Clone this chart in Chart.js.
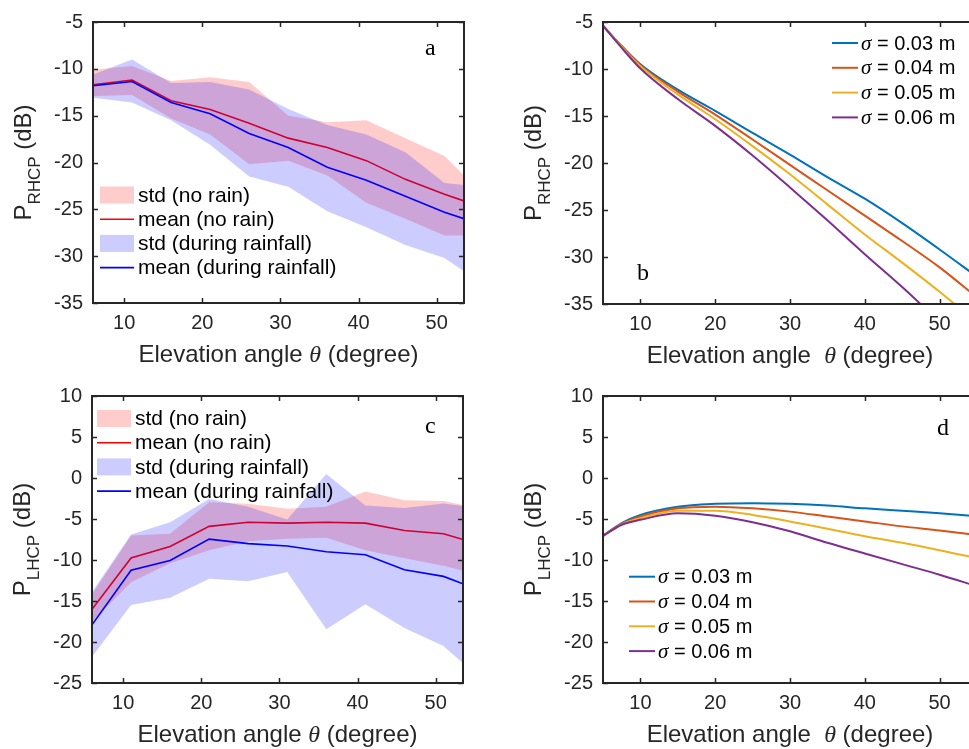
<!DOCTYPE html>
<html>
<head>
<meta charset="utf-8">
<script src="https://cdn.jsdelivr.net/npm/chart.js@4.4.1/dist/chart.umd.min.js"></script>
<style>
    html, body {
        margin: 0;
        padding: 0;
        background: #fff;
        width: 969px;
        height: 749px;
        overflow: hidden;
        position: relative;
    }

    canvas {
        position: absolute;
    }
</style>
</head>
<body>
<canvas id="panelA" width="484" height="374" style="left:0;top:0"></canvas>
<canvas id="panelB" width="500" height="374" style="left:484px;top:0"></canvas>
<canvas id="panelC" width="484" height="375" style="left:0;top:374px"></canvas>
<canvas id="panelD" width="500" height="375" style="left:484px;top:374px"></canvas>
<script>
// Measured elevation angles (deg) for panels a and c
const angleObs = [6, 11, 16, 21, 26, 31, 36, 41, 46, 51, 53.5];

// Panel a: RHCP (dB)
const rhcpMeanNoRain = [-11.7, -11.2, -13.4, -14.35, -15.8, -17.4, -18.4, -19.8, -21.8, -23.4, -24.1];
const rhcpMeanRain = [-11.8, -11.35, -13.6, -14.8, -16.9, -18.4, -20.5, -21.9, -23.6, -25.3, -26.0];
const rhcpStdNoRainHi = [-10.1, -9.7, -11.3, -10.9, -11.4, -15.0, -15.7, -15.5, -17.4, -19.3, -21.4];
const rhcpStdNoRainLo = [-12.9, -12.8, -15.3, -17.0, -20.2, -19.8, -21.4, -24.3, -26.0, -27.8, -27.8];
const rhcpStdRainHi = [-10.6, -9.0, -11.5, -11.4, -12.2, -14.3, -16.0, -17.0, -18.9, -22.2, -22.4];
const rhcpStdRainLo = [-13.1, -13.6, -15.5, -18.1, -21.5, -22.6, -25.2, -26.9, -28.8, -30.2, -31.6];

// Panel c: LHCP (dB)
const lhcpMeanNoRain = [-16.0, -9.75, -8.35, -5.9, -5.4, -5.5, -5.4, -5.5, -6.4, -6.8, -7.5];
const lhcpMeanRain = [-17.9, -11.25, -10.05, -7.45, -8.0, -8.3, -9.0, -9.35, -11.2, -12.0, -12.9];
const lhcpStdNoRainHi = [-14.2, -7.0, -6.8, -2.95, -3.15, -3.75, -3.5, -1.65, -2.7, -2.8, -3.3];
const lhcpStdNoRainLo = [-17.5, -12.7, -10.4, -8.8, -7.7, -7.4, -7.3, -8.8, -9.8, -10.7, -11.3];
const lhcpStdRainHi = [-13.9, -6.9, -5.4, -2.55, -3.5, -5.05, 0.5, -3.35, -3.65, -3.1, -3.4];
const lhcpStdRainLo = [-21.8, -15.5, -14.6, -12.3, -12.6, -11.45, -18.45, -15.4, -18.3, -20.5, -22.6];

// Model elevation angles (deg) for panels b and d
const angleModel = [5, 7.5, 10, 15, 20, 25, 30, 35, 40, 45, 50, 55];
const sigmaLabels = ['0.03', '0.04', '0.05', '0.06'];

// Panel b: modelled RHCP (dB)
const rhcpSigma03 = [-5.4, -7.55, -9.5, -12.2, -14.45, -16.8, -19.1, -21.5, -23.8, -26.4, -29.2, -32.1];
const rhcpSigma04 = [-5.4, -7.6, -9.6, -12.4, -14.85, -17.5, -20.2, -22.9, -25.6, -28.3, -31.1, -34.3];
const rhcpSigma05 = [-5.4, -7.65, -9.7, -12.7, -15.35, -18.2, -21.2, -24.4, -27.6, -30.6, -33.7, -37.0];
const rhcpSigma06 = [-5.4, -7.75, -9.95, -13.2, -16.05, -19.2, -22.6, -26.1, -29.7, -33.2, -36.9, -40.5];

// Panel d: modelled LHCP (dB)
const lhcpSigma03 = [-7.05, -5.5, -4.5, -3.5, -3.15, -3.07, -3.15, -3.36, -3.7, -4.0, -4.3, -4.65];
const lhcpSigma04 = [-7.05, -5.6, -4.7, -3.7, -3.5, -3.7, -4.1, -4.7, -5.3, -5.9, -6.4, -6.95];
const lhcpSigma05 = [-7.05, -5.65, -4.9, -4.0, -4.0, -4.5, -5.3, -6.2, -7.1, -7.9, -8.8, -9.8];
const lhcpSigma06 = [-7.05, -5.7, -5.1, -4.3, -4.6, -5.4, -6.5, -7.9, -9.2, -10.5, -11.8, -13.2];

// Tick labels
const xTicks = [10, 20, 30, 40, 50];
const rhcpTicks = [-35, -30, -25, -20, -15, -10, -5];
const lhcpTicks = [-25, -20, -15, -10, -5, 0, 5, 10];

const SANS = "'Liberation Sans', Arial, sans-serif";
const SERIF = "'Liberation Serif', 'Times New Roman', serif";
const AXIS_COLOR = '#262626';
const modelColors = ['#0072BD', '#D95319', '#EDB120', '#7E2F8E'];
const pinkFill = 'rgba(255, 0, 0, 0.2)';
const blueFill = 'rgba(0, 0, 255, 0.2)';

const pts = (xs, ys) => xs.map((x, i) => ({ x, y: ys[i] }));

function drawRuns(ctx, runs, x, y, align) {
    let total = 0;
    runs.forEach(r => {
        ctx.font = r.font;
        r.w = ctx.measureText(r.text).width;
        total += r.w;
    });
    let cx = align === 'center' ? x - total / 2 : x;
    runs.forEach(r => {
        ctx.font = r.font;
        ctx.fillText(r.text, cx, y + (r.dy || 0));
        cx += r.w;
    });
}

// Frame, inward ticks, axis titles, panel letter and legend
const panelDecor = {
    id: 'panelDecor',
    afterDraw(chart, args, opts) {
        const { ctx, chartArea: a } = chart;
        const xs = chart.scales.x;
        const ys = chart.scales.y;
        ctx.save();
        ctx.strokeStyle = AXIS_COLOR;
        ctx.fillStyle = AXIS_COLOR;

        const seg = (x1, y1, x2, y2) => {
            ctx.beginPath();
            ctx.moveTo(x1, y1);
            ctx.lineTo(x2, y2);
            ctx.stroke();
        };

        ctx.lineWidth = 1.5;
        xs.ticks.forEach(t => {
            const px = Math.round(xs.getPixelForValue(t.value)) + 0.5;
            seg(px, a.bottom, px, a.bottom - 5);
            seg(px, a.top, px, a.top + 5);
        });
        ys.ticks.forEach(t => {
            const py = Math.round(ys.getPixelForValue(t.value)) + 0.5;
            seg(a.left, py, a.left + 5, py);
            seg(a.right, py, a.right - 5, py);
        });

        ctx.lineWidth = 2;
        ctx.strokeRect(a.left, a.top, a.right - a.left, a.bottom - a.top);

        // x title
        ctx.textBaseline = 'alphabetic';
        drawRuns(ctx, [
            { text: opts.wideGap ? 'Elevation angle  ' : 'Elevation angle ', font: `24px ${SANS}` },
            { text: 'θ', font: `italic 24px ${SERIF}` },
            { text: ' (degree)', font: `24px ${SANS}` }
        ], (a.left + a.right) / 2, a.bottom + 59, 'center');

        // y title (rotated, with subscript)
        ctx.save();
        ctx.translate(a.left - 62, (a.top + a.bottom) / 2);
        ctx.rotate(-Math.PI / 2);
        drawRuns(ctx, [
            { text: 'P', font: `24px ${SANS}` },
            { text: opts.sub, font: `17px ${SANS}`, dy: 9 },
            { text: ' (dB)', font: `24px ${SANS}` }
        ], 0, 0, 'center');
        ctx.restore();

        // panel letter
        ctx.fillStyle = '#000';
        ctx.font = `24px ${SERIF}`;
        ctx.textAlign = 'left';
        ctx.fillText(opts.letter, opts.letterX, opts.letterY);

        // legend
        const lg = opts.legend;
        ctx.textBaseline = 'middle';
        lg.items.forEach((item, i) => {
            const cy = lg.y + i * lg.step;
            if (item.kind === 'box') {
                ctx.fillStyle = item.color;
                ctx.fillRect(lg.x, cy - 8.5, lg.len, 17);
            } else {
                ctx.strokeStyle = item.color;
                ctx.lineWidth = item.width;
                seg(lg.x, cy, lg.x + lg.len, cy);
            }
            ctx.fillStyle = '#000';
            drawRuns(ctx, item.runs, lg.x + lg.len + lg.gap, cy + 1, 'left');
        });
        ctx.restore();
    }
};

function makePanel(id, cfg) {
    const canvas = document.getElementById(id);
    const W = canvas.width;
    const H = canvas.height;
    const p = cfg.plot;
    return new Chart(canvas.getContext('2d'), {
        type: 'line',
        data: { datasets: cfg.datasets },
        options: {
            responsive: false,
            animation: false,
            events: [],
            layout: { padding: { left: 0, top: p.top, right: W - p.right, bottom: 0 } },
            elements: { point: { radius: 0 } },
            plugins: {
                legend: { display: false },
                tooltip: { enabled: false },
                panelDecor: cfg.decor
            },
            scales: {
                x: {
                    type: 'linear',
                    min: cfg.xMin,
                    max: cfg.xMax,
                    afterBuildTicks: s => { s.ticks = xTicks.map(v => ({ value: v })); },
                    afterFit: s => { s.height = H - p.bottom; },
                    grid: { display: false, drawTicks: false },
                    border: { display: false },
                    ticks: { font: { family: SANS, size: 20 }, color: AXIS_COLOR, padding: 8, maxRotation: 0 }
                },
                y: {
                    type: 'linear',
                    min: cfg.yTicks[0],
                    max: cfg.yTicks[cfg.yTicks.length - 1],
                    afterBuildTicks: s => { s.ticks = cfg.yTicks.map(v => ({ value: v })); },
                    afterFit: s => { s.width = p.left; },
                    grid: { display: false, drawTicks: false },
                    border: { display: false },
                    ticks: { font: { family: SANS, size: 20 }, color: AXIS_COLOR, padding: 10 }
                }
            }
        },
        plugins: [panelDecor]
    });
}

function obsDatasets(meanNo, meanRain, noHi, noLo, rainHi, rainLo) {
    const band = (ys, fill, color) => ({
        data: pts(angleObs, ys), borderWidth: 0, borderColor: 'rgba(0,0,0,0)',
        fill, backgroundColor: color, tension: 0
    });
    // Chart.js paints the last dataset first
    return [
        { data: pts(angleObs, meanRain), borderColor: '#0000ff', borderWidth: 1.6, fill: false, tension: 0 },
        band(rainHi, '+1', blueFill),
        band(rainLo, false, 'rgba(0,0,0,0)'),
        { data: pts(angleObs, meanNo), borderColor: '#ff0000', borderWidth: 1.6, fill: false, tension: 0 },
        band(noHi, '+1', pinkFill),
        band(noLo, false, 'rgba(0,0,0,0)')
    ];
}

function modelDatasets(series) {
    return series.map((ys, i) => ({
        data: pts(angleModel, ys),
        borderColor: modelColors[i],
        borderWidth: 2,
        fill: false,
        cubicInterpolationMode: 'monotone',
        order: series.length - i
    }));
}

const obsLegend = (x, y) => ({
    x, y, step: 24.2, len: 34, gap: 4,
    items: [
        { kind: 'box', color: pinkFill, runs: [{ text: 'std (no rain)', font: `21px ${SANS}` }] },
        { kind: 'line', color: '#ff0000', width: 1.6, runs: [{ text: 'mean (no rain)', font: `21px ${SANS}` }] },
        { kind: 'box', color: blueFill, runs: [{ text: 'std (during rainfall)', font: `21px ${SANS}` }] },
        { kind: 'line', color: '#0000ff', width: 1.6, runs: [{ text: 'mean (during rainfall)', font: `21px ${SANS}` }] }
    ]
});

const modelLegend = (x, y) => ({
    x, y, step: 24.8, len: 26, gap: 3,
    items: sigmaLabels.map((s, i) => ({
        kind: 'line', color: modelColors[i], width: 2,
        runs: [
            { text: 'σ', font: `italic 21px ${SERIF}` },
            { text: ` = ${s} m`, font: `20px ${SANS}` }
        ]
    }))
});

makePanel('panelA', {
    plot: { left: 93, top: 14, right: 464, bottom: 303 },
    xMin: 6, xMax: 53.5, yTicks: rhcpTicks,
    datasets: obsDatasets(rhcpMeanNoRain, rhcpMeanRain, rhcpStdNoRainHi, rhcpStdNoRainLo, rhcpStdRainHi, rhcpStdRainLo),
    decor: { sub: 'RHCP', letter: 'a', letterX: 425, letterY: 55, legend: obsLegend(100, 195) }
});

makePanel('panelB', {
    plot: { left: 119, top: 16, right: 493, bottom: 304 },
    xMin: 5, xMax: 55, yTicks: rhcpTicks,
    datasets: modelDatasets([rhcpSigma03, rhcpSigma04, rhcpSigma05, rhcpSigma06]),
    decor: { sub: 'RHCP', letter: 'b', letterX: 153, letterY: 280, wideGap: true, legend: modelLegend(348, 43) }
});

makePanel('panelC', {
    plot: { left: 92, top: 21, right: 463, bottom: 309 },
    xMin: 6, xMax: 53.5, yTicks: lhcpTicks,
    datasets: obsDatasets(lhcpMeanNoRain, lhcpMeanRain, lhcpStdNoRainHi, lhcpStdNoRainLo, lhcpStdRainHi, lhcpStdRainLo),
    decor: { sub: 'LHCP', letter: 'c', letterX: 425, letterY: 59, legend: obsLegend(97, 44.5) }
});

makePanel('panelD', {
    plot: { left: 119, top: 22, right: 493, bottom: 309 },
    xMin: 5, xMax: 55, yTicks: lhcpTicks,
    datasets: modelDatasets([lhcpSigma03, lhcpSigma04, lhcpSigma05, lhcpSigma06]),
    decor: { sub: 'LHCP', letter: 'd', letterX: 453, letterY: 61, wideGap: true, legend: modelLegend(145, 202.7) }
});
</script>
</body>
</html>
